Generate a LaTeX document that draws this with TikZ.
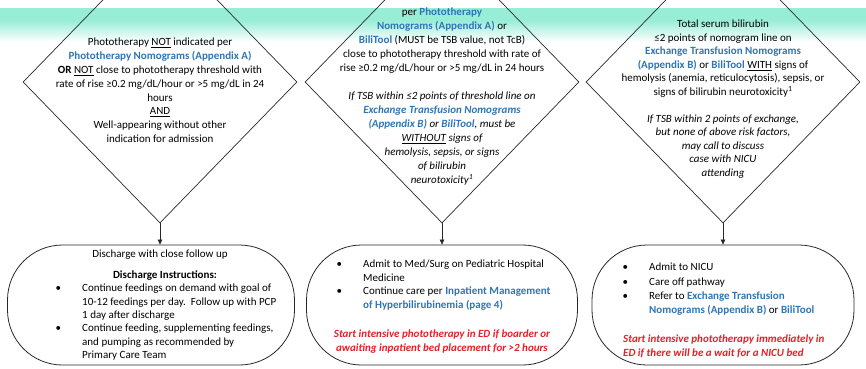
\documentclass[tikz,border=0pt]{standalone}
\usepackage{fontspec}
\setmainfont{Carlito}
\usetikzlibrary{shapes.geometric,arrows.meta}

\definecolor{linkblue}{RGB}{46,117,182}
\definecolor{alertred}{RGB}{232,30,38}
\definecolor{bandteal}{RGB}{152,237,214}
\definecolor{edgegray}{RGB}{40,40,40}

% blue bold reference to another document
\newcommand{\lk}[1]{\textcolor{linkblue}{\bfseries #1}}
% hanging bullet in front of a list item
\newcommand{\bul}{\llap{\textbullet\hspace{21pt}}}

\begin{document}
\begin{tikzpicture}[x=1pt,y=-1pt,
  decision/.style={diamond, draw=edgegray, line width=0.7pt,
    minimum width=274pt, minimum height=282pt, inner sep=0pt},
  outcome/.style={draw=edgegray, line width=0.8pt, rounded corners=55pt,
    minimum height=120pt, inner sep=0pt},
  txt/.style={font=\fontsize{11}{#1}\selectfont, inner sep=0pt,
    align=center, anchor=north},
  txt/.default=13.8,
  listtxt/.style={font=\fontsize{11}{#1}\selectfont, inner sep=0pt,
    align=left, anchor=north west},
  listtxt/.default=13.4,
  flow/.style={draw=edgegray, line width=0.6pt,
    -{Triangle[length=5pt,width=4.5pt]}}]

\useasboundingbox (0,0) rectangle (866,368);
\clip (0,0) rectangle (866,368);

% header band
\fill[bandteal] (0,8) rectangle (866,20);
\shade[top color=bandteal, bottom color=white] (0,20) rectangle (866,42);

% decision diamonds
\node[decision] (d1) at (160,82) {};
\node[decision] (d2) at (442,82) {};
\node[decision] (d3) at (723,82) {};

% outcome boxes
\node[outcome, minimum width=287pt] (b1) at (151,305) {};
\node[outcome, minimum width=271pt] (b2) at (442,305) {};
\node[outcome, minimum width=262pt] (b3) at (723,305) {};

% connectors
\draw[flow] (d1.south) -- (d1.south |- b1.north);
\draw[flow] (d2.south) -- (d2.south |- b2.north);
\draw[flow] (d3.south) -- (d3.south |- b3.north);

% diamond texts
\node[txt=13.8] (t1) at (160,38) {Phototherapy \underline{NOT} indicated per\\
  \lk{Phototherapy Nomograms (Appendix A)}\\
  \textbf{OR} \underline{NOT} close to phototherapy threshold with\\
  rate of rise ≥0.2 mg/dL/hour or >5 mg/dL in 24\\
  hours\\
  \underline{AND}\\
  Well-appearing without other\\
  indication for admission};

\node[txt=14] (t2) at (442,8) {per \lk{Phototherapy}\\
  \lk{Nomograms (Appendix A)} or\\
  \lk{BiliTool} (MUST be TSB value, not TcB)\\
  close to phototherapy threshold with rate of\\
  rise ≥0.2 mg/dL/hour or >5 mg/dL in 24 hours\\[14pt]
  \itshape If TSB within ≤2 points of threshold line on\\
  \itshape\lk{Exchange Transfusion Nomograms}\\
  \itshape\lk{(Appendix B)} or \lk{BiliTool}, must be\\
  \itshape\underline{WITHOUT} signs of\\
  \itshape hemolysis, sepsis, or signs\\
  \itshape of bilirubin\\
  \itshape neurotoxicity\textsuperscript{1}};

\node[txt=13.5] (t3) at (723,20) {Total serum bilirubin\\
  ≤2 points of nomogram line on\\
  \lk{Exchange Transfusion Nomograms}\\
  \lk{(Appendix B)} or \lk{BiliTool} \underline{WITH} signs of\\
  hemolysis (anemia, reticulocytosis), sepsis, or\\
  signs of bilirubin neurotoxicity\textsuperscript{1}\\[13.5pt]
  \itshape If TSB within 2 points of exchange,\\
  \itshape but none of above risk factors,\\
  \itshape may call to discuss\\
  \itshape case with NICU\\
  \itshape attending};

% discharge box
\node[txt] (h1) at (160,250) {Discharge with close follow up};
\node[txt] (h2) at (165,271) {\bfseries Discharge Instructions:};
\node[listtxt=13.3] (l1) at (82,284) {\bul Continue feedings on demand with goal of\\
  10-12 feedings per day.\ \ Follow up with PCP\\
  1 day after discharge\\
  \bul Continue feeding, supplementing feedings,\\
  and pumping as recommended by\\
  Primary Care Team};

% hospital medicine box
\node[listtxt=13.4] (l2) at (363,260) {\bul Admit to Med/Surg on Pediatric Hospital\\
  Medicine\\
  \bul Continue care per \lk{Inpatient Management}\\
  \lk{of Hyperbilirubinemia (page 4)}};
\node[txt=13.4, text=alertred] (r2) at (442,330)
  {\bfseries\itshape Start intensive phototherapy in ED if boarder or\\
  \bfseries\itshape awaiting inpatient bed placement for >2 hours};

% NICU box
\node[listtxt=14.3] (l3) at (649,263) {\bul Admit to NICU\\
  \bul Care off pathway\\
  \bul Refer to \lk{Exchange Transfusion}\\
  \lk{Nomograms (Appendix B)} or \lk{BiliTool}};
\node[listtxt=13.4, text=alertred] (r3) at (623,335)
  {\bfseries\itshape Start intensive phototherapy immediately in\\
  \bfseries\itshape ED if there will be a wait for a NICU bed};
\end{tikzpicture}
\end{document}
